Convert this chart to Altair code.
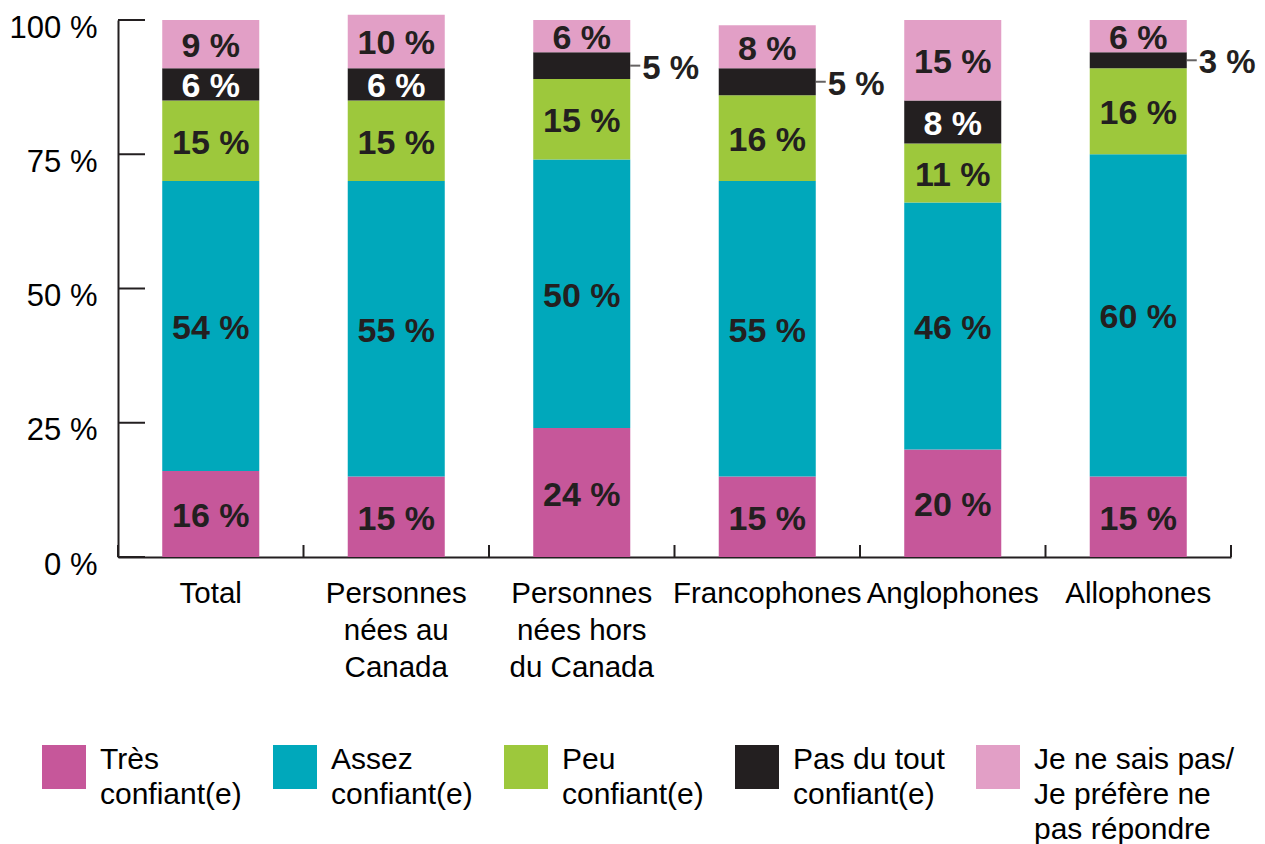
import altair as alt
import pandas as pd

# ---- data ----
categories = ["Total", "Personnes\nnées au\nCanada", "Personnes\nnées hors\ndu Canada",
              "Francophones", "Anglophones", "Allophones"]
segments = ["Très\nconfiant(e)", "Assez\nconfiant(e)", "Peu\nconfiant(e)",
            "Pas du tout\nconfiant(e)", "Je ne sais pas/\nJe préfère ne\npas répondre"]
tres_confiant = [16, 15, 24, 15, 20, 15]
assez_confiant = [54, 55, 50, 55, 46, 60]
peu_confiant = [15, 15, 15, 16, 11, 16]
pas_du_tout = [6, 6, 5, 5, 8, 3]
ne_sais_pas = [9, 10, 6, 8, 15, 6]
colors = ["#c6579a", "#00a8bb", "#9dc83c", "#231f20", "#e29fc6"]
y_ticks = [0, 25, 50, 75, 100]

series = [tres_confiant, assez_confiant, peu_confiant, pas_du_tout, ne_sais_pas]
rows = []
for ci, cat in enumerate(categories):
    base = 0
    for si, seg in enumerate(segments):
        v = series[si][ci]
        rows.append({"cat": cat, "seg": seg, "value": v, "y0": base, "y1": base + v,
                     "mid": base + v / 2, "label": f"{v} %",
                     "inside": v >= 6, "dark": si == 3})
        base += v
df = pd.DataFrame(rows)

W, H = 1113, 537
STEP = W / len(categories)
PI = 0.477
BW = STEP * (1 - PI)
FONT = "Liberation Sans"
INK = "#231f20"

xscale = alt.Scale(domain=categories, paddingInner=PI, paddingOuter=PI / 2)
yscale = alt.Scale(domain=[0, 100], nice=False)

x_enc = alt.X("cat:N", sort=categories, scale=xscale, title=None,
              axis=alt.Axis(labelExpr="split(datum.label, '\\n')", labelAngle=0,
                            labelFontSize=29.5, labelFont=FONT, labelColor="black",
                            labelLineHeight=37, labelPadding=22, ticks=False, tickSize=0,
                            labelLimit=400, labelOverlap=False,
                            domainColor=INK, domainWidth=2, labelBaseline="top"))
y_enc = alt.Y("y0:Q", scale=yscale, title=None,
              axis=alt.Axis(values=y_ticks, labelExpr="datum.value + ' %'", grid=False,
                            labelFontSize=31, labelFont=FONT, labelColor="black",
                            labelPadding=21, ticks=False, tickSize=0, labelOffset=8,
                            domainColor=INK, domainWidth=2))

legend_label = ("length(split(datum.label, '\\n')) < 3 ? "
                "split(datum.label + '\\n ', '\\n') : split(datum.label, '\\n')")

bars = alt.Chart(df).mark_bar().encode(
    x=x_enc,
    y=y_enc,
    y2="y1:Q",
    color=alt.Color("seg:N", scale=alt.Scale(domain=segments, range=colors), sort=segments,
                    legend=alt.Legend(title=None, orient="none", legendX=-76, legendY=703,
                                      direction="horizontal", columns=5,
                                      symbolType="M-1,0H1V2H-1Z", symbolSize=44 * 44,
                                      symbolStrokeWidth=0, symbolOpacity=1,
                                      labelFontSize=30, labelFont=FONT, labelColor="black",
                                      labelOffset=14, labelBaseline="top",
                                      labelExpr=legend_label,
                                      columnPadding=31, labelLimit=400)),
)

inside_text = alt.Chart(df).transform_filter("datum.inside").mark_text(
    font=FONT, fontWeight="bold", fontSize=34, baseline="middle", dy=3
).encode(
    x=alt.X("cat:N", sort=categories),
    y=alt.Y("mid:Q"),
    text="label:N",
    color=alt.condition("datum.dark", alt.value("white"), alt.value(INK)),
)

outside_text = alt.Chart(df).transform_filter("!datum.inside").mark_text(
    font=FONT, fontWeight="bold", fontSize=33, baseline="middle", align="left",
    dx=BW / 2 + 12, dy=3, color=INK
).encode(
    x=alt.X("cat:N", sort=categories),
    y=alt.Y("mid:Q"),
    text="label:N",
)

leaders = alt.Chart(df).transform_filter("!datum.inside").mark_tick(
    size=10, thickness=2, xOffset=BW / 2 + 5, color=INK, orient="horizontal"
).encode(
    x=alt.X("cat:N", sort=categories),
    y=alt.Y("mid:Q"),
)

ytick_df = pd.DataFrame({"t": y_ticks})
yticks = alt.Chart(ytick_df).mark_rule(color=INK, strokeWidth=2).encode(
    y=alt.Y("t:Q"), x=alt.value(0), x2=alt.value(27)
)

xtick_df = pd.DataFrame({"cat": categories})
xticks_left = alt.Chart(xtick_df).mark_rule(color=INK, strokeWidth=2, xOffset=-STEP / 2).encode(
    x=alt.X("cat:N", sort=categories), y=alt.value(H), y2=alt.value(H - 12)
)
xticks_end = alt.Chart(xtick_df).transform_filter(
    alt.datum.cat == categories[-1]
).mark_rule(color=INK, strokeWidth=2, xOffset=STEP / 2).encode(
    x=alt.X("cat:N", sort=categories), y=alt.value(H), y2=alt.value(H - 12)
)

chart = alt.layer(bars, inside_text, outside_text, leaders, yticks, xticks_left, xticks_end).properties(
    width=W, height=H,
    autosize=alt.AutoSizeParams(type="none"),
    padding={"left": 110, "top": 12, "right": 26, "bottom": 290},
).configure(
    style={"guide-label": {"lineHeight": 35}}
).configure_view(stroke="transparent")

chart.save("out.html", embed_options={"renderer": "svg", "actions": False})
